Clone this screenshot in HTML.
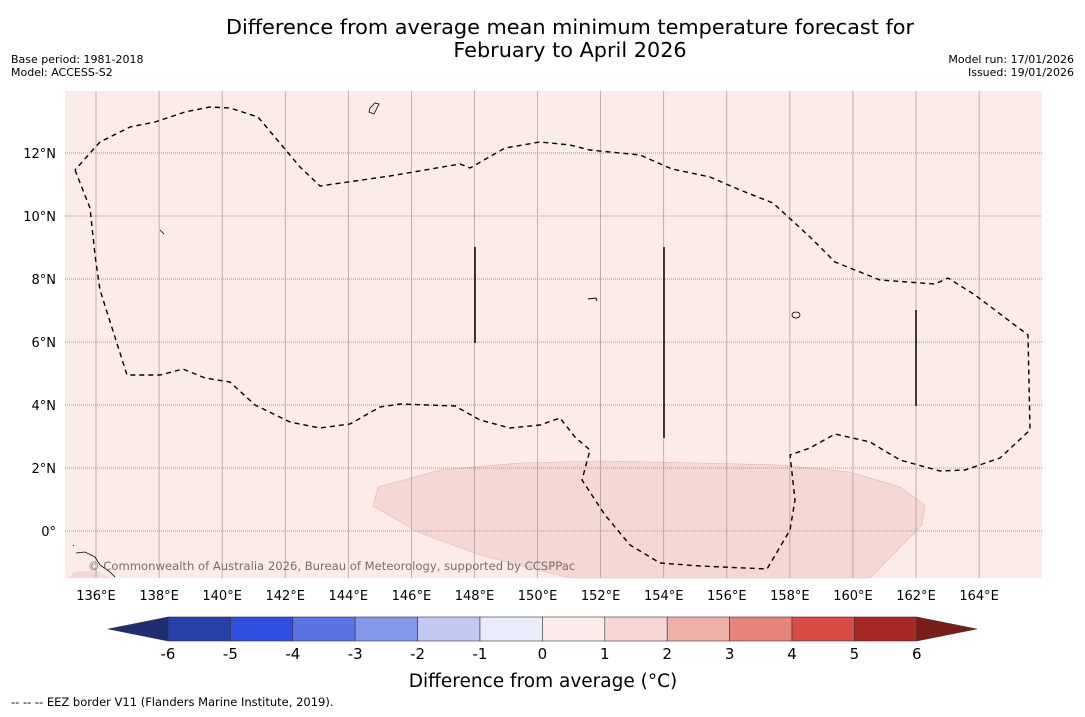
<!DOCTYPE html>
<html><head><meta charset="utf-8"><style>
body{margin:0;background:#fff;width:1085px;height:713px;overflow:hidden;font-family:"DejaVu Sans","Liberation Sans",sans-serif}
</style></head><body>
<svg id="c" width="1085" height="713" xmlns="http://www.w3.org/2000/svg">
<text x="570" y="34" font-size="20.8" text-anchor="middle">Difference from average mean minimum temperature forecast for</text>
<text x="570" y="57" font-size="20.8" text-anchor="middle">February to April 2026</text>
<text x="11" y="63" font-size="11">Base period: 1981-2018</text>
<text x="11" y="76" font-size="11">Model: ACCESS-S2</text>
<text x="1074" y="63" font-size="11" text-anchor="end">Model run: 17/01/2026</text>
<text x="1074" y="76" font-size="11" text-anchor="end">Issued: 19/01/2026</text>
<g id="map">
<rect x="65" y="91" width="977" height="487" fill="#fbebe9"/>
<polygon points="378,487 440,470 520,463 600,461 700,463 780,465 850,472 900,487 925,505 922,525 870,578 570,578 480,555 420,533 373,506" fill="#f5d7d3" stroke="#e0b8b4" stroke-width="0.6"/>
<polygon points="68,578 75,572 95,570 110,578" fill="#f5d7d3"/>
<g id="grid"></g>
<polyline points="75,170 90,208 95,255 100,290 127,375 160,375 183,369 205,378 230,382 255,405 290,422 320,428 350,424 380,407 400,404 455,406 480,420 510,428 540,425 560,418 575,437 590,450 582,480 605,515 630,545 660,563 700,566 767,569 790,530 795,500 790,455 810,448 835,434 870,442 900,460 940,471 965,470 1000,458 1030,430 1028,335 975,295 948,278 935,284 880,280 835,262 810,237 773,203 740,190 710,177 672,169 640,155 590,150 570,145 540,142 505,148 470,168 460,164 390,176 320,186 300,167 258,117 230,108 210,107 185,112 155,122 130,127 100,142 75,170" fill="none" stroke="#000" stroke-width="1.4" stroke-dasharray="5,4"/>
<line x1="475" y1="247" x2="475" y2="343" stroke="#000" stroke-width="1.5"/>
<line x1="664" y1="247" x2="664" y2="438" stroke="#000" stroke-width="1.5"/>
<line x1="916" y1="310" x2="916" y2="406" stroke="#000" stroke-width="1.5"/>
<path d="M370,108 L375,103 L379,104 L374,114 L369,112Z" fill="none" stroke="#000" stroke-width="0.8"/>
<path d="M76,553 L85,552 L95,557 L100,565 L110,572 L115,577 M73,545 L74,546 M160,230 L164,234" fill="none" stroke="#000" stroke-width="0.8"/>
<ellipse cx="796" cy="315" rx="4" ry="3" fill="none" stroke="#000" stroke-width="0.8"/>
<path d="M588,299 L596,298 L597,301" fill="none" stroke="#000" stroke-width="1"/>
<text x="88" y="570" font-size="11.6" fill="#7a6e6d">© Commonwealth of Australia 2026, Bureau of Meteorology, supported by CCSPPac</text>
</g>
<g id="xticks"></g>
<g id="yticks"></g>
<g id="cbar"></g>
<text x="543" y="687" font-size="18.5" text-anchor="middle">Difference from average (°C)</text>
<text x="11" y="706" font-size="11.5">--  --  -- EEZ border V11 (Flanders Marine Institute, 2019).</text>
</svg>
<script>
const lonTicks=[136,138,140,142,144,146,148,150,152,154,156,158,160,162,164];
const latTicks=[0,2,4,6,8,10,12];
const cbarBounds=[-6,-5,-4,-3,-2,-1,0,1,2,3,4,5,6];
const cbarColors=["#273fab","#2f4fe0","#5a74e3","#8598ec","#c2c9f3","#e9ecfa","#fbeceb","#f5d6d3","#eeafa8","#e8837b","#da4b43","#a92a24"];
const NS="http://www.w3.org/2000/svg";
const xS=lon=>96+(lon-136)*31.54;
const yS=lat=>531-lat*31.5;
const cX=v=>168+(v+6)*62.4;
function mk(t,a,p){const e=document.createElementNS(NS,t);for(const k in a)e.setAttribute(k,a[k]);p.appendChild(e);return e;}
const grid=document.getElementById('grid'),xt=document.getElementById('xticks'),yt=document.getElementById('yticks'),cb=document.getElementById('cbar');
lonTicks.forEach(l=>{const x=xS(l);
const g=mk('line',{x1:x,y1:91,x2:x,y2:578,stroke:'#a09898','stroke-width':0.7},grid);


const t=mk('text',{x:x,y:600,'font-size':13,'text-anchor':'middle'},xt);t.textContent=l+'°E';

});
latTicks.forEach(l=>{const y=yS(l);
const g=mk('line',{x1:65,y1:y,x2:1042,y2:y,stroke:'#8a8080','stroke-width':0.8,'stroke-dasharray':'1,1'},grid);


const t=mk('text',{x:56,y:y+5,'font-size':13,'text-anchor':'end'},yt);t.textContent=l===0?'0°':l+'°N';

});
const tl=mk('polygon',{points:`108,629 ${cX(-6)},617 ${cX(-6)},641`,fill:'#1f2e74',stroke:'#333','stroke-width':0.5},cb);


const tr=mk('polygon',{points:`977,629 ${cX(6)},617 ${cX(6)},641`,fill:'#7a1e19',stroke:'#333','stroke-width':0.5},cb);


cbarColors.forEach((c,i)=>{const x0=cX(cbarBounds[i]),x1=cX(cbarBounds[i+1]);
const r=mk('rect',{x:x0,y:617,width:x1-x0,height:24,fill:c,stroke:'#333','stroke-width':0.6},cb);

});
cbarBounds.forEach(v=>{const t=mk('text',{x:cX(v),y:659,'font-size':15,'text-anchor':'middle'},cb);t.textContent=v;

});
</script>
</body></html>
